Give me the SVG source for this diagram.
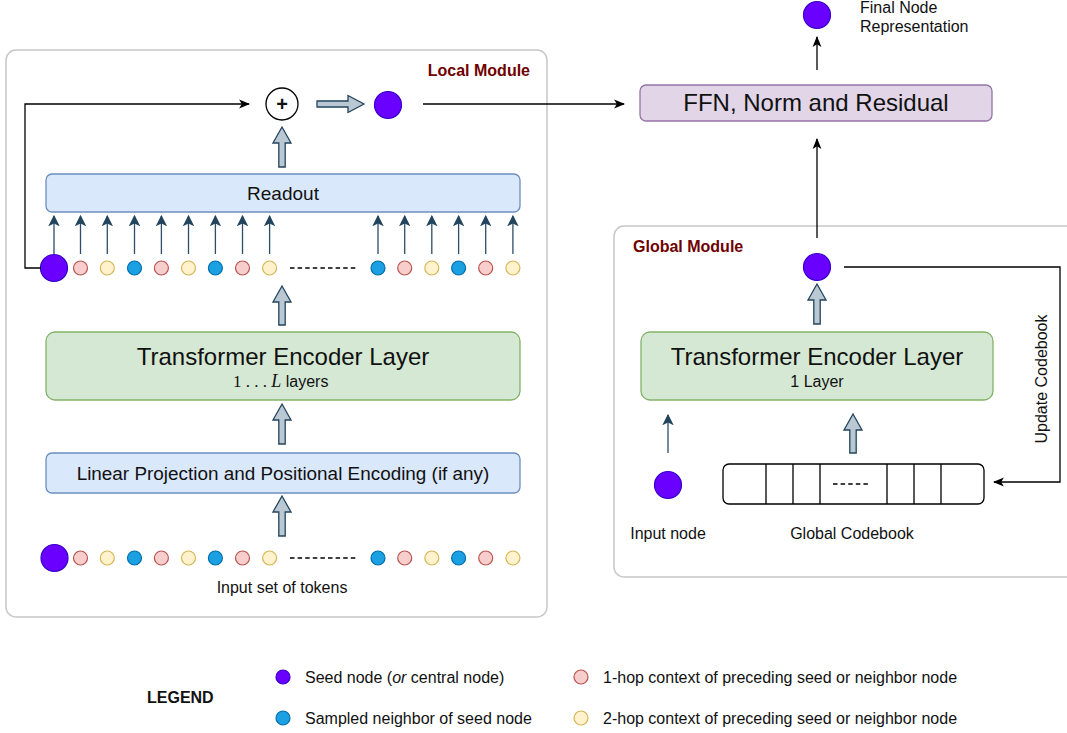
<svg xmlns="http://www.w3.org/2000/svg" width="1067" height="733" viewBox="0 0 1067 733">
<defs>
<style>
text{font-family:"Liberation Sans",Arial,sans-serif;fill:#111}
.mod{fill:#fff;stroke:#c8c8c8;stroke-width:1.5}
.modt{font-weight:bold;font-size:16px;fill:#6f0000}
.blue{fill:#dae8fc;stroke:#6c8ebf;stroke-width:1.3}
.green{fill:#d5e8d4;stroke:#82b366;stroke-width:1.3}
.purple{fill:#e1d5e7;stroke:#9673a6;stroke-width:1.3}
.seed{fill:#6a00ff;stroke:#3700cc;stroke-width:1.2}
.p{fill:#f8cecc;stroke:#b85450;stroke-width:1.2}
.y{fill:#fff2cc;stroke:#d6b656;stroke-width:1.2}
.b{fill:#1ba1e2;stroke:#006eaf;stroke-width:1.2}
.blk{fill:#bac8d3;stroke:#23445d;stroke-width:1.3;stroke-linejoin:miter}
.ln{fill:none;stroke:#000;stroke-width:1.3}
.sl{fill:none;stroke:#2e4d66;stroke-width:1.3}
.dash{stroke:#000;stroke-width:1.3;stroke-dasharray:4.5 3.1}
.t16{font-size:16px}
</style>
<marker id="ah" viewBox="0 0 10 8" refX="9" refY="4" markerWidth="11" markerHeight="9.5" markerUnits="userSpaceOnUse" orient="auto">
<path d="M0,0 L10,4 L0,8 L2.5,4 Z" fill="#000"/>
</marker>
<marker id="as" viewBox="0 0 10 10" refX="9" refY="5" markerWidth="11.5" markerHeight="11.5" markerUnits="userSpaceOnUse" orient="auto">
<path d="M0,0 L10,5 L0,10 L2.5,5 Z" fill="#23445d"/>
</marker>
</defs>

<g id="local-module">
<rect class="mod" x="6" y="50" width="541" height="567" rx="10"/>
<text class="modt" x="530" y="75.5" text-anchor="end">Local Module</text>
</g>

<g id="global-module">
<rect class="mod" x="614" y="226" width="480" height="351" rx="10"/>
<text class="modt" x="633" y="251.7">Global Module</text>
</g>

<g id="plus">
<circle cx="282" cy="104" r="16" fill="#fff" stroke="#000" stroke-width="1.3"/>
<text x="282" y="110.8" text-anchor="middle" font-weight="bold" font-size="20">+</text>
</g>

<g id="local-output">
<circle class="seed" cx="388" cy="105" r="13.5"/>
</g>

<g id="readout">
<rect class="blue" x="46" y="174" width="474" height="38" rx="6"/>
<text x="283" y="199.5" text-anchor="middle" font-size="19">Readout</text>
</g>

<g id="local-tel">
<rect class="green" x="46" y="332" width="474" height="68" rx="9"/>
<text x="283" y="364.6" text-anchor="middle" font-size="24">Transformer Encoder Layer</text>
<text x="233" y="386.8" font-size="16"><tspan font-family="Liberation Serif" font-size="17">1 . . . </tspan><tspan font-family="Liberation Serif" font-style="italic" font-size="18">L</tspan><tspan> layers</tspan></text>
</g>

<g id="linear-projection">
<rect class="blue" x="46" y="453" width="474" height="40" rx="6"/>
<text x="283" y="479.8" text-anchor="middle" font-size="18.9">Linear Projection and Positional Encoding (if any)</text>
</g>

<g id="output-tokens">
<circle class="seed" cx="54" cy="268" r="13.5"/>
<circle class="p" cx="80.5" cy="268" r="7"/>
<circle class="y" cx="107.3" cy="268" r="7"/>
<circle class="b" cx="134.5" cy="268" r="7"/>
<circle class="p" cx="161.4" cy="268" r="7"/>
<circle class="y" cx="188.5" cy="268" r="7"/>
<circle class="b" cx="215.4" cy="268" r="7"/>
<circle class="p" cx="242.5" cy="268" r="7"/>
<circle class="y" cx="269.6" cy="268" r="7"/>
<line class="dash" x1="290" y1="268" x2="358" y2="268"/>
<circle class="b" cx="378" cy="268" r="7"/>
<circle class="p" cx="404.7" cy="268" r="7"/>
<circle class="y" cx="431.8" cy="268" r="7"/>
<circle class="b" cx="458.6" cy="268" r="7"/>
<circle class="p" cx="485.7" cy="268" r="7"/>
<circle class="y" cx="512.9" cy="268" r="7"/>
</g>

<g id="input-tokens">
<circle class="seed" cx="54.5" cy="558" r="13.5"/>
<circle class="p" cx="80.5" cy="558" r="7"/>
<circle class="y" cx="107.3" cy="558" r="7"/>
<circle class="b" cx="134.5" cy="558" r="7"/>
<circle class="p" cx="161.4" cy="558" r="7"/>
<circle class="y" cx="188.5" cy="558" r="7"/>
<circle class="b" cx="215.4" cy="558" r="7"/>
<circle class="p" cx="242.5" cy="558" r="7"/>
<circle class="y" cx="269.6" cy="558" r="7"/>
<line class="dash" x1="290" y1="558" x2="358" y2="558"/>
<circle class="b" cx="378" cy="558" r="7"/>
<circle class="p" cx="404.7" cy="558" r="7"/>
<circle class="y" cx="431.8" cy="558" r="7"/>
<circle class="b" cx="458.6" cy="558" r="7"/>
<circle class="p" cx="485.7" cy="558" r="7"/>
<circle class="y" cx="512.9" cy="558" r="7"/>
<text class="t16" x="282" y="592.8" text-anchor="middle">Input set of tokens</text>
</g>

<g id="ffn">
<rect class="purple" x="640" y="85" width="352" height="36" rx="6"/>
<text x="816" y="110.5" text-anchor="middle" font-size="24">FFN, Norm and Residual</text>
</g>

<g id="final-node">
<circle class="seed" cx="817" cy="15" r="13.5"/>
<text class="t16" x="860" y="12.5">Final Node</text>
<text class="t16" x="860" y="32">Representation</text>
</g>

<g id="global-node">
<circle class="seed" cx="817" cy="267" r="13.5"/>
</g>

<g id="global-tel">
<rect class="green" x="641" y="332" width="352" height="68" rx="9"/>
<text x="817" y="364.6" text-anchor="middle" font-size="24">Transformer Encoder Layer</text>
<text class="t16" x="817" y="386.8" text-anchor="middle">1 Layer</text>
</g>

<g id="input-node">
<circle class="seed" cx="668" cy="485" r="13.5"/>
<text class="t16" x="668" y="538.8" text-anchor="middle">Input node</text>
</g>

<g id="global-codebook">
<rect x="723" y="464" width="261" height="40" rx="6" fill="#fff" stroke="#000" stroke-width="1.3"/>
<path d="M766,464V504M793,464V504M820,464V504M887,464V504M914,464V504M941,464V504" stroke="#000" stroke-width="1.3"/>
<line class="dash" x1="833" y1="484" x2="871" y2="484"/>
<text class="t16" x="852" y="538.8" text-anchor="middle">Global Codebook</text>
</g>

<g id="legend">
<text x="147" y="702.5" font-weight="bold" font-size="16">LEGEND</text>
<circle class="seed" cx="283" cy="677" r="7"/>
<text class="t16" x="305" y="682.8">Seed node (<tspan font-style="italic">or</tspan> central node)</text>
<circle class="b" cx="283" cy="718" r="7"/>
<text class="t16" x="305" y="723.8">Sampled neighbor of seed node</text>
<circle class="p" cx="581" cy="677" r="7"/>
<text class="t16" x="603" y="682.8">1-hop context of preceding seed or neighbor node</text>
<circle class="y" cx="581" cy="718" r="7"/>
<text class="t16" x="603" y="723.8">2-hop context of preceding seed or neighbor node</text>
</g>

<g id="connectors">
<path class="ln" d="M41,268 H25 V104 H249" marker-end="url(#ah)"/>
<path class="ln" d="M423,104 H624" marker-end="url(#ah)"/>
<path class="ln" d="M817,70 V37" marker-end="url(#ah)"/>
<path class="ln" d="M817,238 V139" marker-end="url(#ah)"/>
<path class="ln" d="M844,267 H1060 V482 H994" marker-end="url(#ah)"/>
<text class="t16" transform="translate(1041,379) rotate(-90)" x="0" y="5.7" text-anchor="middle">Update Codebook</text>
<path class="sl" d="M668,453 V415" marker-end="url(#as)"/>
<g class="sl" marker-end="url(#as)">
<path d="M54,254 V216"/>
<path d="M80.5,254 V216"/>
<path d="M107.3,254 V216"/>
<path d="M134.5,254 V216"/>
<path d="M161.4,254 V216"/>
<path d="M188.5,254 V216"/>
<path d="M215.4,254 V216"/>
<path d="M242.5,254 V216"/>
<path d="M269.6,254 V216"/>
<path d="M378,254 V216"/>
<path d="M404.7,254 V216"/>
<path d="M431.8,254 V216"/>
<path d="M458.6,254 V216"/>
<path d="M485.7,254 V216"/>
<path d="M512.9,254 V216"/>
</g>
<path class="blk" d="M317,101 H348 V95.5 L364,104 L348,112.5 V107 H317 Z"/>
<path class="blk" d="M278.8,167 V143 H273 L282,127 L291,143 H285.2 V167 Z"/>
<path class="blk" d="M278.8,325 V302 H273 L282,286 L291,302 H285.2 V325 Z"/>
<path class="blk" d="M278.8,444 V420 H273 L282,404 L291,420 H285.2 V444 Z"/>
<path class="blk" d="M278.8,536 V512 H273 L282,496 L291,512 H285.2 V536 Z"/>
<path class="blk" d="M813.8,324 V300 H808 L817,284 L826,300 H820.2 V324 Z"/>
<path class="blk" d="M849.8,453 V430 H844 L853,414 L862,430 H856.2 V453 Z"/>
</g>
</svg>
